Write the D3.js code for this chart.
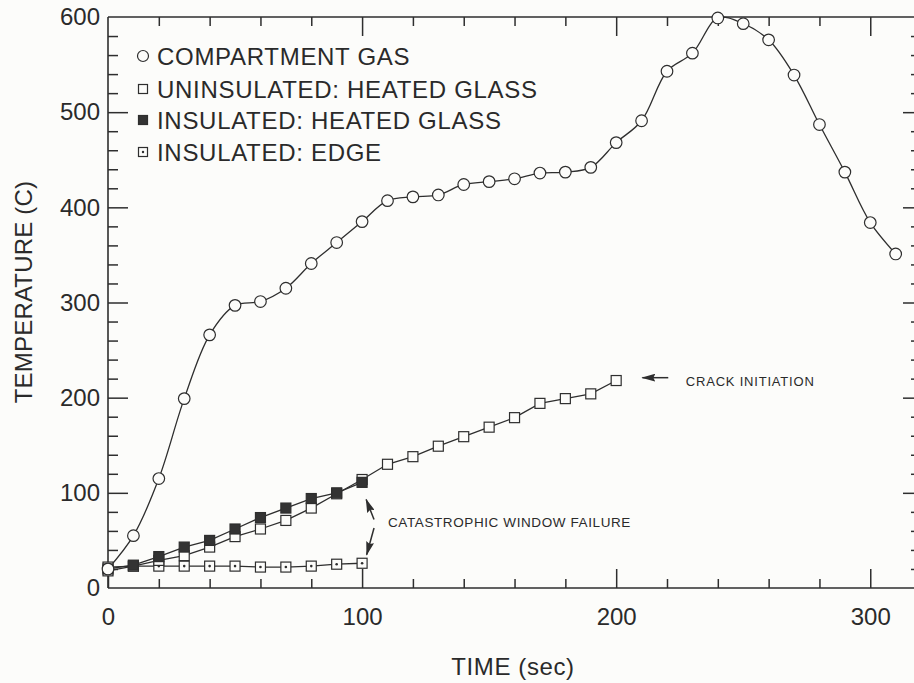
<!DOCTYPE html>
<html>
<head>
<meta charset="utf-8">
<script src="https://cdn.jsdelivr.net/npm/d3@7/dist/d3.min.js"></script>
<style>
  html, body { margin: 0; padding: 0; background: #fcfcfa; }
  svg { display: block; }
  text { font-family: "Liberation Sans", Arial, Helvetica, sans-serif; fill: #2a2a2a; }
</style>
</head>
<body>
<svg id="chart" width="914" height="683"></svg>
<script>
// Compartment gas temperature (C), sampled every 10 s
const gasTime = [0,10,20,30,40,50,60,70,80,90,100,110,120,130,140,150,160,170,180,190,200,210,220,230,240,250,260,270,280,290,300,310];
const gasTemp = [20,55,115,199,266,297,301,315,341,363,385,407,411,413,424,427,430,436,437,442,468,491,543,562,599,593,576,539,487,437,384,351];

// Uninsulated window, heated glass
const uninsTime = [0,10,20,30,40,50,60,70,80,90,100,110,120,130,140,150,160,170,180,190,200];
const uninsTemp = [18,23,29,34,43,54,62,71,84,99,114,130,138,149,159,169,179,194,199,204,218];

// Insulated window, heated glass and shaded edge
const insTime = [0,10,20,30,40,50,60,70,80,90,100];
const insGlassTemp = [20,24,33,43,50,62,74,84,94,100,111];
const insEdgeTemp = [22,23,23,23,23,23,22,22,23,25,26];

// Axis ticks
const xMajorTicks = [0,100,200,300];
const xMinorTicks = [20,40,60,80,120,140,160,180,220,240,260,280];
const yMajorTicks = [0,100,200,300,400,500,600];
const yMinorTicks = [20,40,60,80,120,140,160,180,220,240,260,280,320,340,360,380,420,440,460,480,520,540,560,580];

const legendLabels = ["COMPARTMENT GAS", "UNINSULATED: HEATED GLASS", "INSULATED: HEATED GLASS", "INSULATED: EDGE"];

const ink = "#2e2e2e";
const paper = "#fcfcfa";
const svg = d3.select("#chart");

const pLeft = 108, pRight = 916, pTop = 17, pBottom = 588;
const x = d3.scaleLinear().domain([0, 318]).range([pLeft, pRight]);
const y = d3.scaleLinear().domain([0, 600]).range([pBottom, pTop]);

// Frame
const frame = svg.append("g").attr("stroke", ink).attr("stroke-width", 1.6).attr("fill", "none");
frame.append("line").attr("x1", pLeft).attr("x2", pRight).attr("y1", pBottom).attr("y2", pBottom);
frame.append("line").attr("x1", pLeft).attr("x2", pRight).attr("y1", pTop).attr("y2", pTop);
frame.append("line").attr("x1", pLeft).attr("x2", pLeft).attr("y1", pTop).attr("y2", pBottom);
frame.append("line").attr("x1", pRight).attr("x2", pRight).attr("y1", pTop).attr("y2", pBottom);

// Inward ticks via d3 axes with negative tick sizes
function styleAxis(g) {
  g.select(".domain").remove();
  g.selectAll(".tick line").attr("stroke", ink).attr("stroke-width", 1.5);
}
svg.append("g").attr("transform", `translate(0,${pBottom})`)
  .call(d3.axisBottom(x).tickValues(xMajorTicks).tickSize(-19).tickFormat(""))
  .call(styleAxis);
svg.append("g").attr("transform", `translate(0,${pBottom})`)
  .call(d3.axisBottom(x).tickValues(xMinorTicks).tickSize(-9).tickFormat(""))
  .call(styleAxis);
svg.append("g").attr("transform", `translate(0,${pTop})`)
  .call(d3.axisTop(x).tickValues(xMajorTicks.filter(d => d > 0)).tickSize(-19).tickFormat(""))
  .call(styleAxis);
svg.append("g").attr("transform", `translate(0,${pTop})`)
  .call(d3.axisTop(x).tickValues(xMinorTicks).tickSize(-9).tickFormat(""))
  .call(styleAxis);
svg.append("g").attr("transform", `translate(${pLeft},0)`)
  .call(d3.axisLeft(y).tickValues(yMajorTicks.filter(d => d > 0 && d < 600)).tickSize(-20).tickFormat(""))
  .call(styleAxis);
svg.append("g").attr("transform", `translate(${pLeft},0)`)
  .call(d3.axisLeft(y).tickValues(yMinorTicks).tickSize(-10).tickFormat(""))
  .call(styleAxis);
svg.append("g").attr("transform", `translate(${pRight},0)`)
  .call(d3.axisRight(y).tickValues(yMajorTicks.filter(d => d > 0 && d < 600)).tickSize(-13).tickFormat(""))
  .call(styleAxis);
svg.append("g").attr("transform", `translate(${pRight},0)`)
  .call(d3.axisRight(y).tickValues(yMinorTicks).tickSize(-5).tickFormat(""))
  .call(styleAxis);

// Tick labels
const xLabels = svg.append("g").attr("transform", `translate(0,${pBottom})`)
  .call(d3.axisBottom(x).tickValues(xMajorTicks).tickSize(0).tickPadding(20).tickFormat(d3.format("d")));
xLabels.select(".domain").remove();
xLabels.selectAll("text").attr("font-size", 24).attr("font-family", "Liberation Sans, Arial, sans-serif").attr("fill", "#2a2a2a");

const yLabels = svg.append("g").attr("transform", `translate(${pLeft},0)`)
  .call(d3.axisLeft(y).tickValues(yMajorTicks).tickSize(0).tickPadding(8).tickFormat(d3.format("d")));
yLabels.select(".domain").remove();
yLabels.selectAll("text").attr("font-size", 24).attr("font-family", "Liberation Sans, Arial, sans-serif").attr("fill", "#2a2a2a");

// Axis titles
svg.append("text").attr("x", 513).attr("y", 675)
  .attr("text-anchor", "middle").attr("font-size", 24).attr("letter-spacing", 0.6).text("TIME (sec)");
svg.append("text").attr("transform", "translate(32,292) rotate(-90)")
  .attr("text-anchor", "middle").attr("font-size", 24).attr("letter-spacing", 0.2).text("TEMPERATURE (C)");

// Series lines
const straight = d3.line().x(d => x(d[0])).y(d => y(d[1]));
const smooth = d3.line().x(d => x(d[0])).y(d => y(d[1])).curve(d3.curveCatmullRom.alpha(0.5));
const pairs = (t, v) => t.map((d, i) => [d, v[i]]);

const gas = pairs(gasTime, gasTemp);
const unins = pairs(uninsTime, uninsTemp);
const insGlass = pairs(insTime, insGlassTemp);
const insEdge = pairs(insTime, insEdgeTemp);

const lines = svg.append("g").attr("fill", "none").attr("stroke", ink).attr("stroke-width", 1.3);
lines.append("path").attr("d", smooth(gas));
lines.append("path").attr("d", straight(unins));
lines.append("path").attr("d", straight(insGlass));
lines.append("path").attr("d", straight(insEdge));

// Markers
const sq = 10;
function squares(data, fill) {
  return svg.append("g").selectAll("rect").data(data).join("rect")
    .attr("x", d => x(d[0]) - sq / 2).attr("y", d => y(d[1]) - sq / 2)
    .attr("width", sq).attr("height", sq)
    .attr("fill", fill).attr("stroke", ink).attr("stroke-width", 1.2);
}
squares(insEdge, paper);
svg.append("g").selectAll("circle").data(insEdge).join("circle")
  .attr("cx", d => x(d[0])).attr("cy", d => y(d[1])).attr("r", 1.3).attr("fill", ink);
squares(unins, paper);
squares(insGlass, "#333");
svg.append("g").selectAll("circle").data(gas).join("circle")
  .attr("cx", d => x(d[0])).attr("cy", d => y(d[1])).attr("r", 5.8)
  .attr("fill", paper).attr("stroke", ink).attr("stroke-width", 1.2);

// Legend
const legend = svg.append("g");
const rowY = [56, 89, 120, 152];
legendLabels.forEach((label, i) => {
  const cy = rowY[i], cx = 143;
  if (i === 0) {
    legend.append("circle").attr("cx", cx).attr("cy", cy).attr("r", 5.5)
      .attr("fill", "none").attr("stroke", ink).attr("stroke-width", 1.2);
  } else {
    legend.append("rect").attr("x", cx - 4.5).attr("y", cy - 4.5).attr("width", 9).attr("height", 9)
      .attr("fill", i === 2 ? "#333" : "none").attr("stroke", ink).attr("stroke-width", 1.2);
    if (i === 3) legend.append("circle").attr("cx", cx).attr("cy", cy).attr("r", 1.2).attr("fill", ink);
  }
  legend.append("text").attr("x", 157).attr("y", cy).attr("dy", "0.36em")
    .attr("font-size", 24).attr("letter-spacing", 0.7).text(label);
});

// Annotations
const defs = svg.append("defs");
defs.append("marker").attr("id", "head").attr("viewBox", "0 0 14 8")
  .attr("refX", 13).attr("refY", 4).attr("markerWidth", 14).attr("markerHeight", 8)
  .attr("markerUnits", "userSpaceOnUse").attr("orient", "auto")
  .append("path").attr("d", "M0,0 L14,4 L0,8 L2,4 Z").attr("fill", ink);

const ann = svg.append("g").attr("fill", "none").attr("stroke", ink).attr("stroke-width", 1.5);
ann.append("line").attr("x1", x(220.5)).attr("y1", y(221)).attr("x2", x(210.3)).attr("y2", y(221))
  .attr("marker-end", "url(#head)");
svg.append("text").attr("x", x(227.4)).attr("y", y(217)).attr("dy", "0.36em")
  .attr("font-size", 13).attr("letter-spacing", 0.8).text("CRACK INITIATION");

ann.append("line").attr("x1", x(104.7)).attr("y1", y(72)).attr("x2", x(101.6)).attr("y2", y(93))
  .attr("marker-end", "url(#head)");
ann.append("line").attr("x1", x(104.7)).attr("y1", y(63)).attr("x2", x(101.8)).attr("y2", y(35))
  .attr("marker-end", "url(#head)");
svg.append("text").attr("x", x(110.2)).attr("y", y(69)).attr("dy", "0.36em")
  .attr("font-size", 13.5).attr("letter-spacing", 0.6).text("CATASTROPHIC WINDOW FAILURE");
</script>
</body>
</html>
